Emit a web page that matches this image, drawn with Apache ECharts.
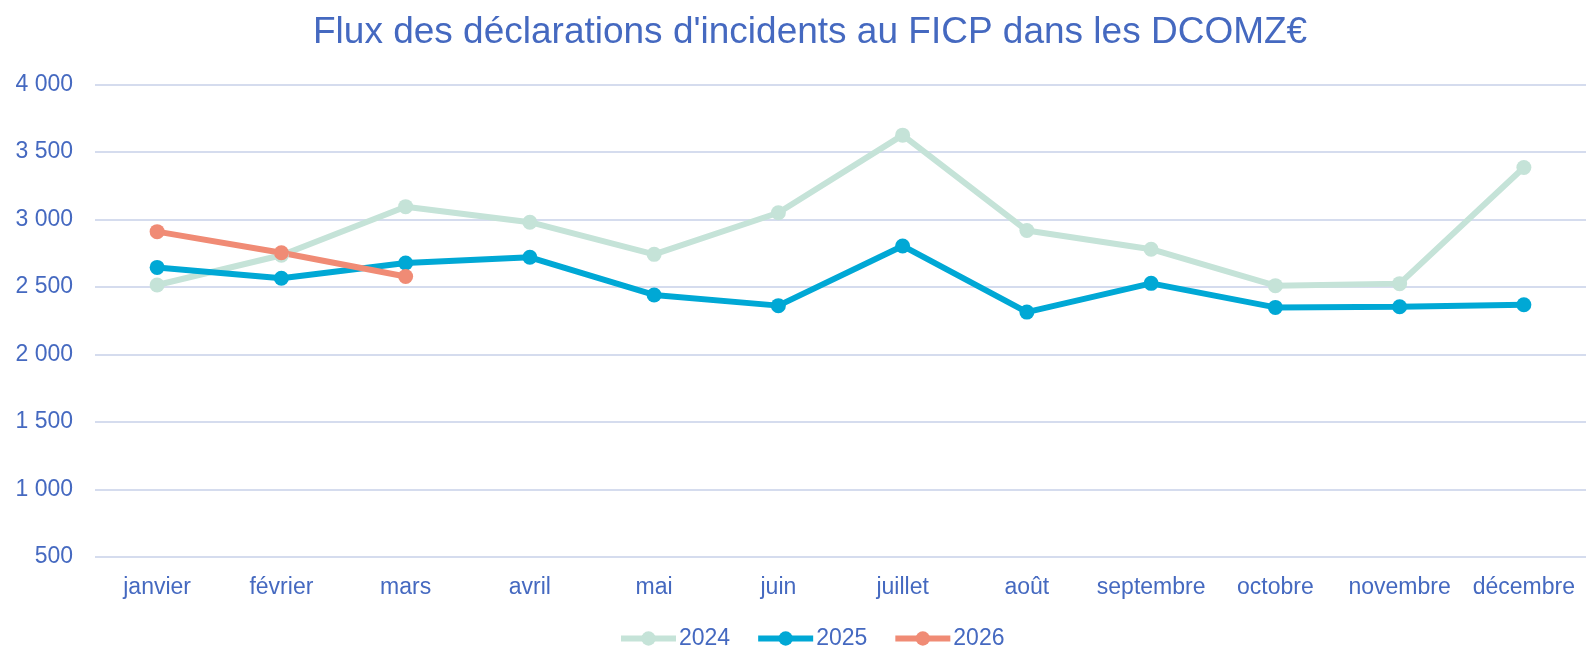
<!DOCTYPE html>
<html lang="fr">
<head>
    <meta charset="UTF-8">
    <title>Flux des déclarations d'incidents au FICP</title>
    <script src="https://cdn.jsdelivr.net/npm/echarts@6/dist/echarts.min.js"></script>
    <style>
        html, body { margin: 0; padding: 0; background: #fff; }
        #chart { width: 1586px; height: 649px; }
    </style>
</head>
<body>
    <div id="chart"></div>
    <script>
        var months = ['janvier', 'février', 'mars', 'avril', 'mai', 'juin', 'juillet', 'août', 'septembre', 'octobre', 'novembre', 'décembre'];
        var flux2024 = [2515, 2735, 3095, 2980, 2742, 3050, 3625, 2918, 2780, 2510, 2525, 3385];
        var flux2025 = [2645, 2565, 2678, 2720, 2441, 2362, 2804, 2314, 2527, 2349, 2354, 2369];
        var flux2026 = [2910, 2754, 2578];
        var yTicks = { min: 500, max: 4000, step: 500 };

        var textColor = '#4569C0';
        var font = 'Liberation Sans, Arial, sans-serif';

        function lineSeries(name, data, color) {
            return {
                name: name,
                type: 'line',
                data: data,
                symbol: 'circle',
                symbolSize: 15,
                lineStyle: { width: 6, color: color },
                itemStyle: { color: color },
                emphasis: { disabled: true }
            };
        }

        var chart = echarts.init(document.getElementById('chart'));
        chart.setOption({
            animation: false,
            textStyle: { fontFamily: font },
            title: {
                text: "Flux des déclarations d'incidents au FICP dans les DCOMZ€",
                left: 308,
                top: 9,
                textStyle: { color: textColor, fontSize: 37, fontWeight: 'normal', fontFamily: font }
            },
            legend: {
                top: 622,
                left: 613,
                itemWidth: 55,
                itemHeight: 18,
                itemGap: 25,
                lineStyle: { width: 6 },
                textStyle: { color: textColor, fontSize: 23, fontFamily: font, padding: [0, 0, 0, -2] },
                data: ['2024', '2025', '2026']
            },
            grid: { left: 95, right: 0, top: 84.5, bottom: 92, containLabel: false },
            xAxis: {
                type: 'category',
                data: months,
                boundaryGap: true,
                axisLine: { show: false },
                axisTick: { show: false },
                axisLabel: { color: textColor, fontSize: 23, margin: 19, interval: 0, fontFamily: font }
            },
            yAxis: {
                type: 'value',
                min: yTicks.min,
                max: yTicks.max,
                interval: yTicks.step,
                axisLine: { show: false },
                axisTick: { show: false },
                splitLine: { lineStyle: { color: '#D5DCEE', width: 2 } },
                axisLabel: {
                    color: textColor,
                    fontSize: 23,
                    margin: 22,
                    fontFamily: font,
                    formatter: function (v) {
                        return String(v).replace(/\B(?=(\d{3})+(?!\d))/g, ' ');
                    }
                }
            },
            series: [
                lineSeries('2024', flux2024, '#C5E3D8'),
                lineSeries('2025', flux2025, '#00A8D5'),
                lineSeries('2026', flux2026, '#F08B75')
            ]
        });
    </script>
</body>
</html>
